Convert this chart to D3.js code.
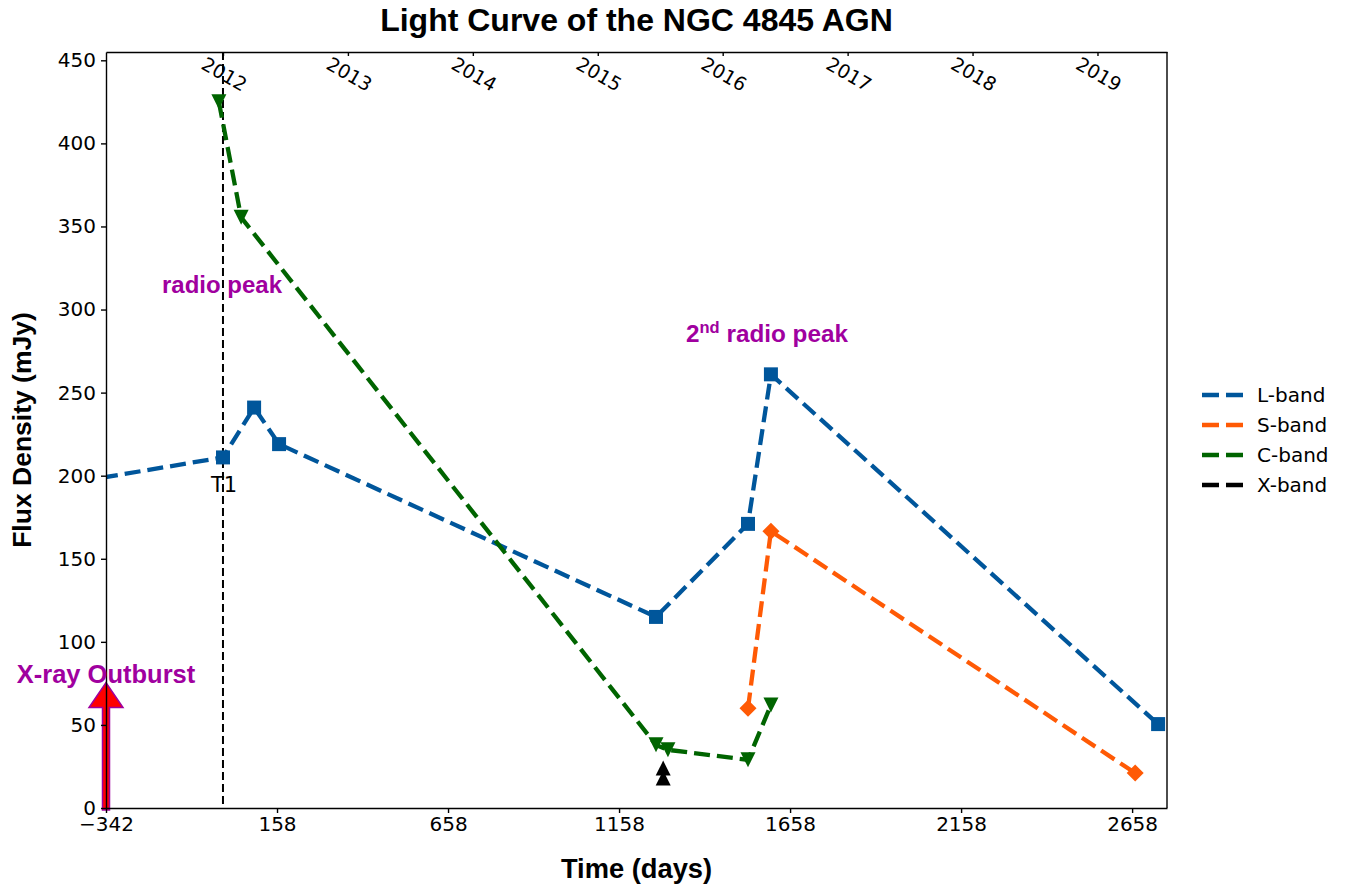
<!DOCTYPE html>
<html>
<head>
    <title>Light Curve of the NGC 4845 AGN</title>
    <script src="https://d3js.org/d3.v7.min.js"></script>
    <style>
        body { margin: 0; background: #fff; }
        .tick text { font-family: "DejaVu Sans", sans-serif; font-size: 20px; fill: #000; }
        .axis path, .axis line { stroke: #000; stroke-width: 1.4px; }
        .bold { font-family: "Liberation Sans", Arial, sans-serif; font-weight: bold; }
        .legend { font-family: "DejaVu Sans", sans-serif; font-size: 20px; }
        .line { fill: none; stroke-width: 4.3px; stroke-dasharray: 16,7; }
    </style>
</head>
<body>
    <svg width="1348" height="885"></svg>
    <script>
        // band data: days since T1, flux density in mJy
        var lDays = [-420, 0, 91, 164, 1266, 1535, 1602, 2734];
        var lFlux = [196.5, 211, 241, 219, 115, 171, 261, 50.5];
        var sDays = [1535, 1602, 2667];
        var sFlux = [60, 166.6, 21];
        var cDays = [-12, 53, 1266, 1301, 1535, 1602];
        var cFlux = [425, 355.5, 38, 35, 29, 62];
        var xDays = [1287, 1287];
        var xFlux = [24, 18];

        var xTicks = [-342, 158, 658, 1158, 1658, 2158, 2658];
        var yTicks = [0, 50, 100, 150, 200, 250, 300, 350, 400, 450];
        var years = [2012, 2013, 2014, 2015, 2016, 2017, 2018, 2019];

        var svg = d3.select("svg"),
            margin = {top: 52, right: 181, bottom: 77, left: 106},
            width = +svg.attr("width") - margin.left - margin.right,
            height = +svg.attr("height") - margin.top - margin.bottom;

        var x = d3.scaleLinear().domain([-342, 2760]).range([0, width]);
        var y = d3.scaleLinear().domain([0, 455]).range([height, 0]);

        var g = svg.append("g")
                   .attr("transform", "translate(" + margin.left + "," + margin.top + ")");

        g.append("clipPath").attr("id", "clip")
         .append("rect").attr("width", width).attr("height", height);

        // T1 marker line
        g.append("line")
         .attr("x1", x(0)).attr("x2", x(0))
         .attr("y1", 0).attr("y2", height)
         .attr("stroke", "#000")
         .attr("stroke-width", 2)
         .attr("stroke-dasharray", "8,4");

        function markerPath(shape, s) {
            var h = s / 2;
            if (shape == "square") return "M" + -h + "," + -h + "H" + h + "V" + h + "H" + -h + "Z";
            if (shape == "diamond") return "M0," + -h + "L" + h + ",0L0," + h + "L" + -h + ",0Z";
            if (shape == "down") return "M" + -h + "," + -h + "L" + h + "," + -h + "L0," + h + "Z";
            return "M0," + -h + "L" + h + "," + h + "L" + -h + "," + h + "Z";
        }

        var bands = [
            {name: "L-band", days: lDays, flux: lFlux, color: "#00569b", shape: "square", size: 14},
            {name: "S-band", days: sDays, flux: sFlux, color: "#ff5a05", shape: "diamond", size: 17},
            {name: "C-band", days: cDays, flux: cFlux, color: "#006400", shape: "down", size: 15},
            {name: "X-band", days: xDays, flux: xFlux, color: "#000000", shape: "up", size: 15}
        ];

        var line = d3.line()
            .x(function(d) { return x(d[0]); })
            .y(function(d) { return y(d[1]); });

        bands.forEach(function(b, i) {
            var pts = b.days.map(function(d, j) { return [d, b.flux[j]]; });
            g.append("path")
             .datum(pts)
             .attr("class", "line")
             .attr("clip-path", "url(#clip)")
             .attr("d", line)
             .style("stroke", b.color);

            g.append("g").attr("clip-path", "url(#clip)")
             .selectAll("path")
             .data(pts)
             .enter().append("path")
             .attr("transform", function(d) { return "translate(" + x(d[0]) + "," + y(d[1]) + ")"; })
             .attr("d", markerPath(b.shape, b.size))
             .attr("fill", b.color);

            // legend
            svg.append("line")
               .attr("x1", 1202).attr("x2", 1243)
               .attr("y1", 395 + i * 30).attr("y2", 395 + i * 30)
               .attr("stroke", b.color)
               .attr("stroke-width", 4.3)
               .attr("stroke-dasharray", "17,7");
            svg.append("text")
               .attr("class", "legend")
               .attr("x", 1257)
               .attr("y", 395 + i * 30)
               .attr("dy", "0.36em")
               .text(b.name);
        });

        // X-ray outburst arrow
        var ax = x(-342), ay0 = y(0) + 2, ay1 = y(75.5), headLen = 25, headW = 17, shaftW = 3.5;
        g.append("path")
         .attr("d", "M" + (ax - shaftW) + "," + ay0 +
                    "V" + (ay1 + headLen) + "H" + (ax - headW) +
                    "L" + ax + "," + ay1 +
                    "L" + (ax + headW) + "," + (ay1 + headLen) +
                    "H" + (ax + shaftW) + "V" + ay0 + "Z")
         .attr("fill", "#ff0000")
         .attr("stroke", "#a0009f")
         .attr("stroke-width", 1.5);

        // axes
        g.append("g")
         .attr("class", "axis")
         .attr("transform", "translate(0," + height + ")")
         .call(d3.axisBottom(x).tickValues(xTicks).tickSize(5).tickSizeOuter(0).tickPadding(4)
                 .tickFormat(function(d) { return d < 0 ? "\u2212" + Math.abs(d) : d; }));

        g.append("g")
         .attr("class", "axis")
         .call(d3.axisLeft(y).tickValues(yTicks).tickSize(5).tickSizeOuter(0).tickPadding(5));

        g.append("line").attr("x1", width).attr("x2", width).attr("y1", 0).attr("y2", height)
         .attr("stroke", "#000").attr("stroke-width", 1.4);

        var yearAxis = g.append("g")
         .attr("class", "axis")
         .call(d3.axisBottom(x).tickValues(years.map(function(yr) { return (yr - 2012) * 365.25; }))
                 .tickSize(4).tickSizeOuter(0)
                 .tickFormat(function(d, i) { return years[i]; }));
        yearAxis.selectAll("text")
           .attr("y", null).attr("dy", null)
           .attr("dominant-baseline", "central")
           .style("font-size", "19px")
           .attr("transform", "translate(1,22) rotate(30)");

        // annotations
        g.append("text")
         .attr("x", x(0) + 1).attr("y", 492 - margin.top)
         .attr("text-anchor", "middle")
         .style("font-family", "DejaVu Sans, sans-serif")
         .style("font-size", "21px")
         .text("T1");

        g.append("text").attr("class", "bold")
         .attr("x", x(0) - 1).attr("y", 293 - margin.top)
         .attr("text-anchor", "middle")
         .style("font-size", "24px").style("fill", "#a0009f")
         .text("radio peak");

        var peak2 = g.append("text").attr("class", "bold")
         .attr("x", 767 - margin.left).attr("y", 342 - margin.top)
         .attr("text-anchor", "middle")
         .style("font-size", "24.3px").style("fill", "#a0009f");
        peak2.append("tspan").text("2");
        peak2.append("tspan").attr("dy", -9).style("font-size", "16.5px").text("nd");
        peak2.append("tspan").attr("dy", 9).text(" radio peak");

        g.append("text").attr("class", "bold")
         .attr("x", x(-342)).attr("y", 683 - margin.top)
         .attr("text-anchor", "middle")
         .style("font-size", "25.5px").style("fill", "#a0009f")
         .text("X-ray Outburst");

        // titles
        svg.append("text").attr("class", "bold")
           .attr("x", margin.left + width / 2).attr("y", 31)
           .attr("text-anchor", "middle")
           .style("font-size", "32px")
           .text("Light Curve of the NGC 4845 AGN");

        svg.append("text").attr("class", "bold")
           .attr("x", margin.left + width / 2).attr("y", 878)
           .attr("text-anchor", "middle")
           .style("font-size", "27.3px")
           .text("Time (days)");

        svg.append("text").attr("class", "bold")
           .attr("transform", "translate(31," + (margin.top + height / 2) + ") rotate(-90)")
           .attr("text-anchor", "middle")
           .style("font-size", "26.5px")
           .text("Flux Density (mJy)");
    </script>
</body>
</html>
